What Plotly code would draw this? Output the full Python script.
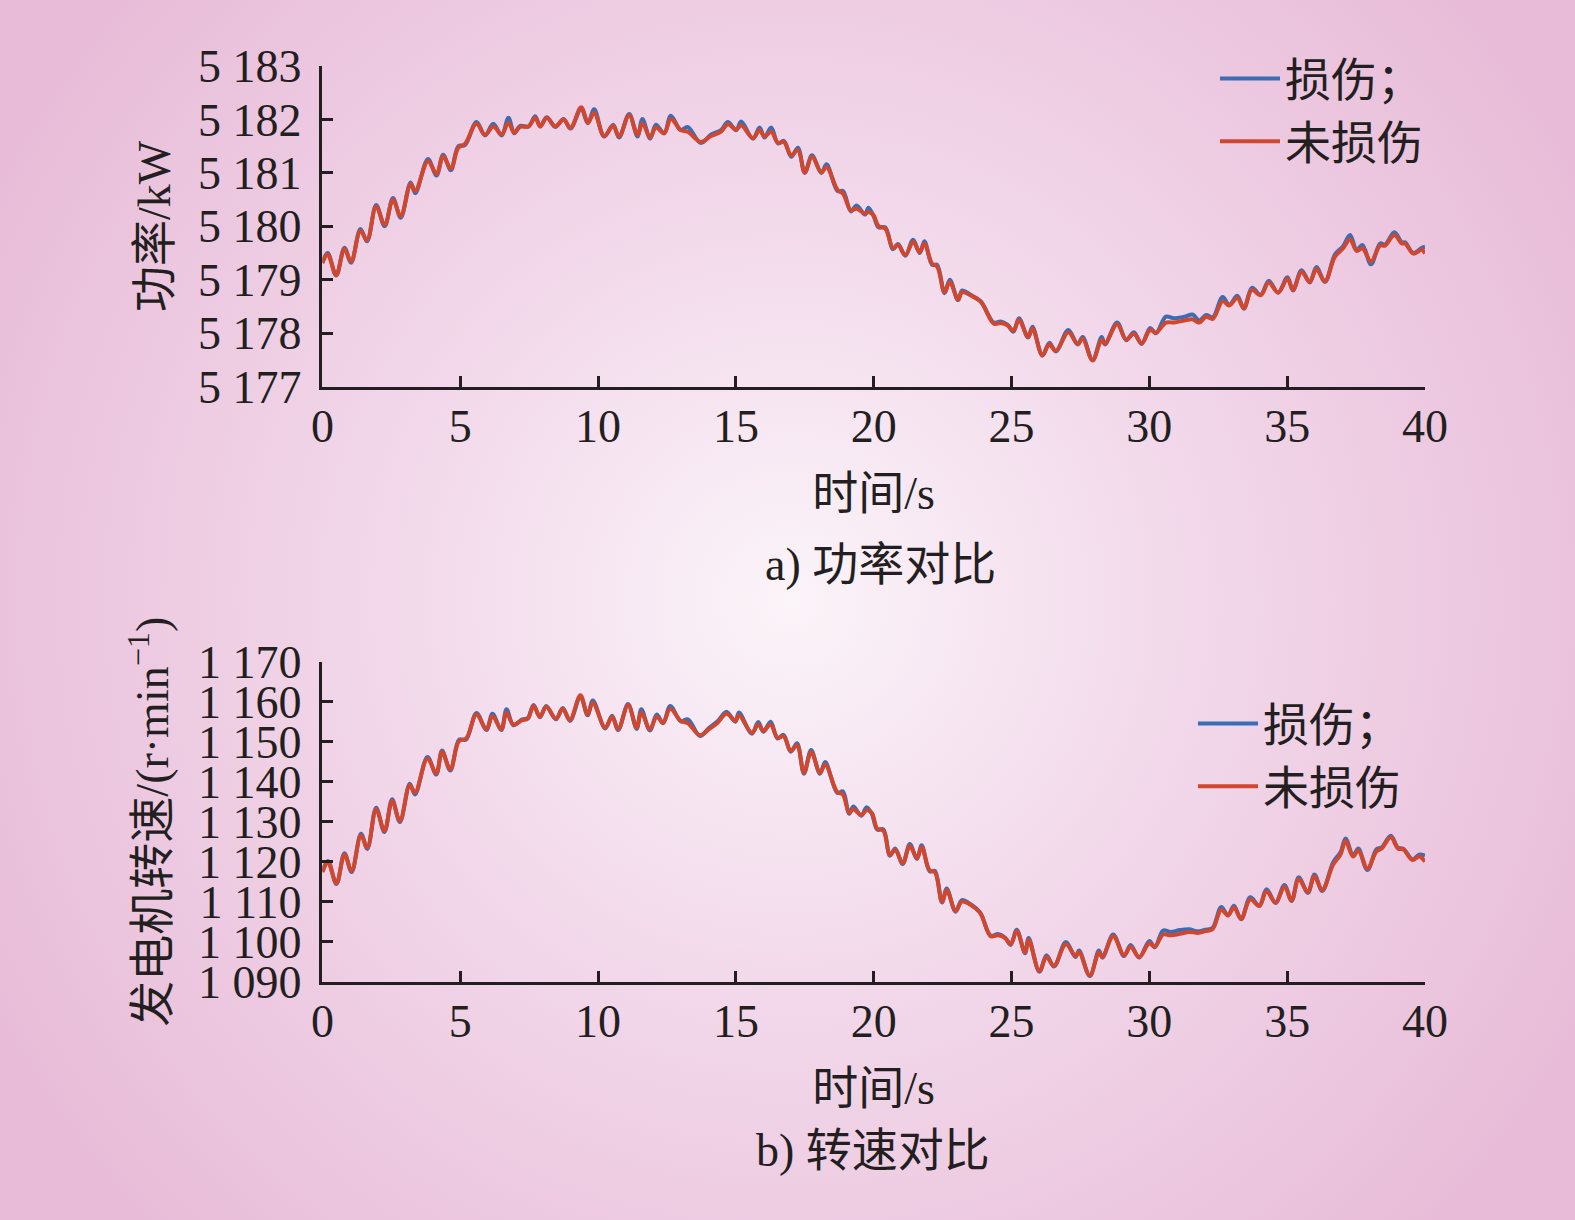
import base64
import plotly.graph_objects as go
from plotly.subplots import make_subplots

# ---------------- data ----------------
t_power = [0, 0.19, 0.5, 0.8, 1.04, 1.38, 1.62, 1.95, 2.26, 2.56,
           2.84, 3.2, 3.37, 3.83, 4.14, 4.38, 4.66, 4.93, 5.17, 5.59,
           5.9, 6.2, 6.5, 6.75, 6.96, 7.17, 7.48, 7.72, 7.9, 8.14,
           8.45, 8.75, 9.0, 9.39, 9.63, 9.86, 10.22, 10.55, 10.76, 11.13,
           11.43, 11.61, 11.89, 12.1, 12.4, 12.64, 13.0, 13.25, 13.73, 14.1,
           14.46, 14.71, 15.01, 15.19, 15.62, 15.86, 16.04, 16.28, 16.53, 16.74,
           17.01, 17.25, 17.5, 17.76, 18.1, 18.29, 18.69, 18.89, 19.17, 19.38,
           19.68, 19.81, 19.99, 20.18, 20.42, 20.7, 20.88, 21.15, 21.43, 21.67,
           21.84, 22.12, 22.3, 22.57, 22.76, 23.06, 23.21, 23.51, 23.88, 24.36,
           24.61, 24.85, 25.07, 25.27, 25.6, 25.76, 26.12, 26.37, 26.61, 27.06,
           27.4, 27.58, 27.94, 28.27, 28.39, 28.83, 29.16, 29.44, 29.72, 30.03,
           30.24, 30.6, 30.9, 31.27, 31.57, 31.81, 32.06, 32.3, 32.66, 32.9,
           33.19, 33.43, 33.72, 34.04, 34.33, 34.67, 35.01, 35.21, 35.52, 35.82,
           36.06, 36.37, 36.73, 37.03, 37.28, 37.52, 37.73, 38.04, 38.37, 38.55,
           38.89, 39.16, 39.28, 39.58, 39.89, 40.0]

power_damaged = [5179.33, 5179.5, 5179.08, 5179.6, 5179.32, 5179.95, 5179.72, 5180.4, 5180.0, 5180.53,
                 5180.16, 5180.82, 5180.62, 5181.26, 5180.95, 5181.34, 5181.05, 5181.5, 5181.52, 5181.95,
                 5181.7, 5181.92, 5181.7, 5182.03, 5181.74, 5181.88, 5181.87, 5182.06, 5181.87, 5182.04,
                 5181.86, 5182.01, 5181.83, 5182.2, 5181.93, 5182.19, 5181.68, 5181.9, 5181.66, 5182.1,
                 5181.68, 5182.01, 5181.64, 5181.9, 5181.74, 5182.07, 5181.8, 5181.86, 5181.56, 5181.72,
                 5181.8, 5181.95, 5181.8, 5181.96, 5181.64, 5181.85, 5181.66, 5181.85, 5181.55, 5181.6,
                 5181.3, 5181.47, 5181.0, 5181.33, 5181.0, 5181.16, 5180.66, 5180.66, 5180.28, 5180.39,
                 5180.22, 5180.35, 5180.2, 5179.98, 5179.98, 5179.57, 5179.67, 5179.45, 5179.75, 5179.5,
                 5179.72, 5179.28, 5179.28, 5178.75, 5179.0, 5178.62, 5178.8, 5178.72, 5178.6, 5178.2,
                 5178.22, 5178.16, 5178.03, 5178.28, 5177.92, 5178.12, 5177.58, 5177.82, 5177.66, 5178.06,
                 5177.79, 5177.93, 5177.5, 5177.93, 5177.79, 5178.2, 5177.87, 5178.02, 5177.8, 5178.1,
                 5178.0, 5178.31, 5178.28, 5178.31, 5178.35, 5178.24, 5178.34, 5178.3, 5178.68, 5178.53,
                 5178.7, 5178.46, 5178.85, 5178.72, 5178.98, 5178.76, 5179.05, 5178.8, 5179.18, 5178.95,
                 5179.24, 5178.96, 5179.47, 5179.63, 5179.84, 5179.56, 5179.65, 5179.29, 5179.68, 5179.66,
                 5179.89, 5179.7, 5179.7, 5179.5, 5179.6, 5179.62]

power_undamaged = [5179.31, 5179.48, 5179.09, 5179.58, 5179.34, 5179.92, 5179.74, 5180.37, 5180.03, 5180.5,
                   5180.19, 5180.79, 5180.66, 5181.22, 5180.98, 5181.31, 5181.08, 5181.47, 5181.54, 5181.92,
                   5181.71, 5181.87, 5181.72, 5181.94, 5181.75, 5181.86, 5181.87, 5182.03, 5181.87, 5182.03,
                   5181.87, 5182.0, 5181.84, 5182.23, 5181.94, 5182.12, 5181.69, 5181.88, 5181.68, 5182.08,
                   5181.71, 5181.93, 5181.66, 5181.85, 5181.74, 5182.01, 5181.8, 5181.77, 5181.58, 5181.69,
                   5181.77, 5181.91, 5181.81, 5181.89, 5181.65, 5181.8, 5181.68, 5181.77, 5181.56, 5181.58,
                   5181.33, 5181.43, 5181.01, 5181.3, 5181.01, 5181.11, 5180.68, 5180.61, 5180.3, 5180.33,
                   5180.24, 5180.27, 5180.21, 5180.0, 5179.96, 5179.59, 5179.65, 5179.46, 5179.71, 5179.52,
                   5179.68, 5179.3, 5179.25, 5178.77, 5178.96, 5178.63, 5178.77, 5178.71, 5178.59, 5178.18,
                   5178.19, 5178.15, 5178.05, 5178.25, 5177.93, 5178.09, 5177.59, 5177.79, 5177.67, 5178.02,
                   5177.8, 5177.9, 5177.49, 5177.88, 5177.8, 5178.17, 5177.88, 5177.99, 5177.81, 5178.06,
                   5178.01, 5178.2, 5178.2, 5178.24, 5178.26, 5178.2, 5178.31, 5178.27, 5178.6, 5178.52,
                   5178.66, 5178.47, 5178.81, 5178.71, 5178.95, 5178.76, 5179.02, 5178.81, 5179.15, 5178.96,
                   5179.2, 5178.97, 5179.43, 5179.59, 5179.76, 5179.54, 5179.59, 5179.34, 5179.64, 5179.64,
                   5179.84, 5179.68, 5179.68, 5179.49, 5179.56, 5179.49]

t_speed = [0, 0.2, 0.51, 0.8, 1.06, 1.4, 1.63, 1.95, 2.25, 2.53,
           2.81, 3.17, 3.36, 3.81, 4.13, 4.34, 4.64, 4.96, 5.21, 5.59,
           5.95, 6.17, 6.49, 6.68, 6.93, 7.25, 7.45, 7.66, 7.89, 8.12,
           8.47, 8.72, 8.98, 9.36, 9.62, 9.81, 10.26, 10.51, 10.73, 11.09,
           11.4, 11.57, 11.88, 12.13, 12.36, 12.62, 13.0, 13.26, 13.7, 14.02,
           14.34, 14.66, 14.98, 15.11, 15.58, 15.81, 16.0, 16.26, 16.51, 16.73,
           16.99, 17.22, 17.47, 17.73, 18.05, 18.24, 18.68, 18.88, 19.11, 19.26,
           19.55, 19.74, 19.93, 20.13, 20.35, 20.59, 20.78, 21.05, 21.31, 21.57,
           21.74, 22.03, 22.22, 22.48, 22.65, 22.97, 23.2, 23.53, 23.86, 24.25,
           24.51, 24.77, 24.97, 25.19, 25.49, 25.62, 26.01, 26.27, 26.54, 26.97,
           27.32, 27.45, 27.84, 28.17, 28.3, 28.69, 29.08, 29.32, 29.63, 30.0,
           30.2, 30.5, 30.78, 31.11, 31.44, 31.76, 32.03, 32.29, 32.61, 32.85,
           33.07, 33.33, 33.66, 33.99, 34.25, 34.58, 34.9, 35.16, 35.42, 35.75,
           35.99, 36.27, 36.67, 36.93, 37.12, 37.39, 37.58, 37.91, 38.24, 38.43,
           38.76, 39.02, 39.22, 39.54, 39.8, 40.0]

speed_damaged = [1117.6, 1120.2, 1114.4, 1122.1, 1117.4, 1127.0, 1123.2, 1133.5, 1127.4, 1135.6,
                 1129.9, 1139.5, 1136.8, 1146.2, 1141.8, 1147.8, 1142.8, 1150.5, 1150.5, 1157.2,
                 1152.9, 1157.0, 1152.9, 1158.1, 1154.1, 1155.6, 1155.9, 1159.2, 1156.1, 1158.9,
                 1155.6, 1158.4, 1155.2, 1161.2, 1156.6, 1160.3, 1153.3, 1156.5, 1152.9, 1159.4,
                 1153.2, 1158.1, 1152.8, 1156.8, 1154.6, 1158.9, 1155.1, 1155.6, 1151.4, 1153.4,
                 1155.1, 1157.5, 1155.0, 1157.3, 1152.0, 1154.9, 1152.5, 1155.0, 1150.8, 1151.7,
                 1147.5, 1149.6, 1142.0, 1147.9, 1142.0, 1144.9, 1137.2, 1137.6, 1132.0, 1133.8,
                 1131.5, 1133.6, 1132.0, 1128.0, 1128.1, 1121.5, 1123.3, 1119.4, 1124.4, 1120.7,
                 1124.1, 1117.6, 1117.7, 1109.8, 1113.3, 1107.5, 1110.4, 1109.3, 1107.3, 1101.5,
                 1101.9, 1101.0, 1099.2, 1103.0, 1097.1, 1100.9, 1092.5, 1096.6, 1093.8, 1099.9,
                 1096.2, 1097.8, 1091.4, 1097.8, 1096.0, 1101.8, 1096.4, 1099.2, 1096.0, 1100.2,
                 1098.6, 1102.8, 1102.4, 1102.9, 1103.1, 1102.6, 1103.0, 1103.4, 1108.7, 1106.6,
                 1109.0, 1105.6, 1111.1, 1109.0, 1113.1, 1109.7, 1114.2, 1110.2, 1116.1, 1112.2,
                 1116.8, 1112.7, 1119.9, 1122.3, 1125.8, 1121.5, 1123.3, 1117.9, 1123.1, 1123.6,
                 1126.5, 1123.5, 1123.2, 1120.6, 1121.8, 1121.5]

speed_undamaged = [1117.4, 1119.9, 1114.6, 1121.8, 1117.7, 1126.6, 1123.5, 1133.1, 1127.7, 1135.2,
                   1130.2, 1139.1, 1137.25, 1145.75, 1142.1, 1147.4, 1143.1, 1150.2, 1150.75, 1156.8,
                   1153.1, 1156.4, 1153.1, 1157.25, 1154.3, 1155.4, 1155.75, 1158.9, 1156.25, 1158.75,
                   1155.75, 1158.25, 1155.4, 1161.6, 1156.8, 1159.75, 1153.5, 1156.25, 1153.1, 1159.1,
                   1153.5, 1157.25, 1153.1, 1156.25, 1154.75, 1158.25, 1155.2, 1154.6, 1151.6, 1153.1,
                   1154.75, 1157.0, 1155.2, 1156.6, 1152.25, 1154.3, 1152.7, 1154.3, 1151.0, 1151.4,
                   1147.7, 1149.1, 1142.25, 1147.4, 1142.25, 1144.3, 1137.4, 1136.8, 1132.25, 1133.1,
                   1131.6, 1132.85, 1132.2, 1128.25, 1127.8, 1121.7, 1123.0, 1119.6, 1123.9, 1120.9,
                   1123.65, 1117.8, 1117.4, 1110.0, 1112.9, 1107.7, 1110.0, 1109.15, 1107.2, 1101.35,
                   1101.6, 1100.9, 1099.35, 1102.65, 1097.3, 1100.5, 1092.65, 1096.15, 1093.95, 1099.35,
                   1096.4, 1097.45, 1091.55, 1097.3, 1096.15, 1101.35, 1096.6, 1098.75, 1096.15, 1099.6,
                   1098.75, 1101.8, 1101.6, 1101.95, 1102.45, 1102.2, 1102.65, 1103.1, 1108.0, 1106.55,
                   1108.55, 1105.7, 1110.6, 1108.9, 1112.6, 1109.75, 1113.75, 1110.3, 1115.65, 1112.35,
                   1116.35, 1112.9, 1119.3, 1121.7, 1125.2, 1121.3, 1122.8, 1118.3, 1122.6, 1123.3,
                   1126.1, 1123.3, 1123.05, 1120.4, 1121.3, 1120.0]

x_ticks = [0, 5, 10, 15, 20, 25, 30, 35, 40]
power_ticks = [5177, 5178, 5179, 5180, 5181, 5182, 5183]
power_ticktext = ["5 177", "5 178", "5 179", "5 180", "5 181", "5 182", "5 183"]
speed_ticks = [1090, 1100, 1110, 1120, 1130, 1140, 1150, 1160, 1170]
speed_ticktext = ["1 090", "1 100", "1 110", "1 120", "1 130", "1 140", "1 150", "1 160", "1 170"]

name_damaged = "损伤；"
name_undamaged = "未损伤"
x_title = "时间/s"
power_title = "功率/kW"
speed_title = "发电机转速/(r·min<sup>−1</sup>)"
caption_a = "a) 功率对比"
caption_b = "b) 转速对比"

# ---------------- style ----------------
W, H = 1575, 1220
FONT = "Liberation Serif, Noto Sans CJK SC, serif"
INK = "#231f20"
BLUE = "#3b6db5"
RED = "#d0472d"
FS = 46
LW = 4.0

svg = f'''<svg xmlns="http://www.w3.org/2000/svg" width="{W}" height="{H}" viewBox="0 0 {W} {H}" preserveAspectRatio="none">
<defs><radialGradient id="g" gradientUnits="userSpaceOnUse" cx="790" cy="600" r="900">
<stop offset="0" stop-color="#fbf4f9"/>
<stop offset="0.45" stop-color="#f2d8ea"/>
<stop offset="1" stop-color="#e8bcd8"/>
</radialGradient></defs>
<rect x="0" y="0" width="{W}" height="{H}" fill="url(#g)"/></svg>'''
bg_src = "data:image/svg+xml;base64," + base64.b64encode(svg.encode("utf-8")).decode("ascii")

fig = make_subplots(rows=2, cols=1)

fig.add_trace(go.Scatter(x=t_power, y=power_damaged, name=name_damaged, mode="lines",
                         line=dict(color=BLUE, width=LW, shape="spline", smoothing=1.0),
                         legend="legend"), row=1, col=1)
fig.add_trace(go.Scatter(x=t_power, y=power_undamaged, name=name_undamaged, mode="lines",
                         line=dict(color=RED, width=LW, shape="spline", smoothing=1.0),
                         legend="legend"), row=1, col=1)
fig.add_trace(go.Scatter(x=t_speed, y=speed_damaged, name=name_damaged, mode="lines",
                         line=dict(color=BLUE, width=LW, shape="spline", smoothing=1.0),
                         legend="legend2"), row=2, col=1)
fig.add_trace(go.Scatter(x=t_speed, y=speed_undamaged, name=name_undamaged, mode="lines",
                         line=dict(color=RED, width=LW, shape="spline", smoothing=1.0),
                         legend="legend2"), row=2, col=1)

xdom = [322.4 / W, 1425.0 / W]
ydom_top = [1 - 386.7 / H, 1 - 66 / H]
ydom_bot = [1 - 981.7 / H, 1 - 661.7 / H]

axis_common = dict(showline=True, linecolor=INK, linewidth=2.6, ticks="inside",
                   ticklen=11, tickwidth=2.6, tickcolor=INK, showgrid=False,
                   zeroline=False, automargin=False,
                   tickfont=dict(family=FONT, size=FS, color=INK),
                   title_font=dict(family=FONT, size=FS, color=INK))

fig.update_xaxes(**axis_common, range=[0, 40], tickvals=x_ticks, ticklabelstandoff=-3)
fig.update_yaxes(**axis_common, ticklabelstandoff=9)

fig.update_layout(
    xaxis=dict(domain=xdom, anchor="y", title=dict(text=x_title, standoff=27)),
    yaxis=dict(domain=ydom_top, range=[5177, 5183], tickvals=power_ticks,
               ticktext=power_ticktext, title=dict(text=power_title, standoff=13)),
    xaxis2=dict(domain=xdom, anchor="y2", title=dict(text=x_title, standoff=27)),
    yaxis2=dict(domain=ydom_bot, range=[1090, 1170], tickvals=speed_ticks,
                ticktext=speed_ticktext, title=dict(text=speed_title, standoff=15)),
)

legend_common = dict(font=dict(family=FONT, size=FS, color=INK), bgcolor="rgba(0,0,0,0)",
                     borderwidth=0, itemwidth=60, xanchor="left", yanchor="top",
                     tracegroupgap=0, itemclick=False, itemdoubleclick=False)
fig.update_layout(
    legend=dict(**legend_common, x=1215 / W, y=1 - 42 / H),
    legend2=dict(**legend_common, x=1193 / W, y=1 - 687 / H),
)

fig.add_annotation(text=caption_a, xref="paper", yref="paper", x=880 / W, y=1 - 564.6 / H,
                   showarrow=False, font=dict(family=FONT, size=FS, color=INK),
                   xanchor="center", yanchor="middle")
fig.add_annotation(text=caption_b, xref="paper", yref="paper", x=873 / W, y=1 - 1150 / H,
                   showarrow=False, font=dict(family=FONT, size=FS, color=INK),
                   xanchor="center", yanchor="middle")

fig.add_layout_image(dict(source=bg_src, xref="paper", yref="paper", x=0, y=1,
                          sizex=1, sizey=1, xanchor="left", yanchor="top",
                          sizing="stretch", layer="below"))

fig.update_layout(width=W, height=H, autosize=False,
                  margin=dict(l=0, r=0, t=0, b=0, pad=0, autoexpand=False),
                  paper_bgcolor="#ecc6de", plot_bgcolor="rgba(0,0,0,0)",
                  font=dict(family=FONT, size=FS, color=INK))

fig.write_html("out.html", config={"displayModeBar": False},
               post_script="document.body.style.margin='0';document.body.style.overflow='hidden';")
